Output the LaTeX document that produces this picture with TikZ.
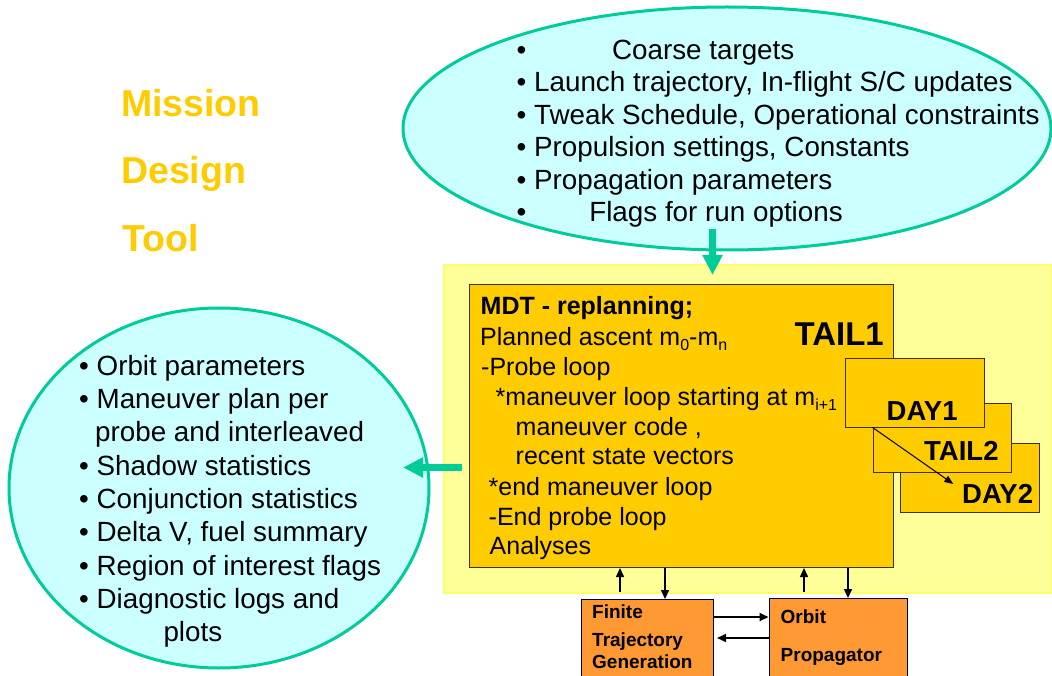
\documentclass[tikz,border=0pt]{standalone}
\usepackage{fontspec}
\setmainfont{Liberation Sans}
\usetikzlibrary{arrows.meta,shapes.geometric}
\definecolor{cyanfill}{HTML}{CCFFFF}
\definecolor{tealline}{HTML}{00CC99}
\definecolor{goldfill}{HTML}{FFCC00}
\definecolor{paleyellow}{HTML}{FFFF99}
\definecolor{yedge}{HTML}{FFFF66}
\definecolor{orangefill}{HTML}{FF9933}
\definecolor{boxedge}{HTML}{3D3300}
\newcommand\mysub[1]{\raisebox{-5pt}{\fontsize{16}{16}\selectfont #1}}
\begin{document}
\begin{tikzpicture}[x=1pt,y=-1pt,
  bubble/.style={ellipse, draw=tealline, line width=3pt, fill=cyanfill, inner sep=0pt},
  bgbox/.style={rectangle, draw=yedge, line width=2pt, fill=paleyellow, inner sep=0pt},
  goldbox/.style={rectangle, draw=boxedge, line width=1pt, fill=goldfill, inner sep=0pt},
  orbox/.style={rectangle, draw=black, line width=1pt, fill=orangefill, inner sep=0pt},
  bigtxt/.style={anchor=base west, inner sep=0pt, font=\fontsize{27.8}{33}\selectfont},
  midtxt/.style={anchor=base west, inner sep=0pt, font=\fontsize{25}{30}\selectfont},
  smalltxt/.style={anchor=base west, inner sep=0pt, font=\fontsize{19}{22}\selectfont\bfseries},
  titletxt/.style={anchor=base west, inner sep=0pt, text=goldfill, font=\fontsize{37.5}{40}\selectfont\bfseries},
  labeltxt/.style={anchor=base west, inner sep=0pt, font=\fontsize{27.5}{30}\selectfont\bfseries},
  greenarrow/.style={draw=tealline, line width=6.5pt, -{Triangle[length=20pt,width=19pt]}},
  thinarrow/.style={draw=black, line width=1.5pt, -{Triangle[length=9pt,width=8pt]}},
  innerarrow/.style={draw=black, line width=1pt, -{Triangle[length=9pt,width=7pt]}}
]
\useasboundingbox (0,0) rectangle (1052,676);

% title
\node[titletxt] (t1) at (121,116.7) {Mission};
\node[titletxt] (t2) at (121,183.3) {Design};
\node[titletxt] (t3) at (122.5,251.7) {Tool};

% background and boxes
\node[bgbox, minimum width=608pt, minimum height=327pt] (env) at (748,429) {};
\node[bubble, minimum width=648pt, minimum height=243pt] (inputs) at (727,128.5) {};
\node[bubble, minimum width=420pt, minimum height=360pt] (outputs) at (219,488) {};
\node[goldbox, minimum width=423.5pt, minimum height=283pt] (mdt) at (681.25,426) {};
\node[goldbox, minimum width=138.6pt, minimum height=69pt] (day2) at (970,477.8) {};
\node[goldbox, minimum width=138.4pt, minimum height=69pt] (tail2) at (942.5,437.8) {};
\node[goldbox, minimum width=138.3pt, minimum height=68.6pt] (day1) at (914.85,393) {};
\node[orbox, minimum width=132pt, minimum height=78pt] (ftg) at (647,638.5) {};
\node[orbox, minimum width=138pt, minimum height=79pt] (op) at (838,638) {};

% input list
\node[bigtxt] (in1) at (516.5,59.5) {•\hspace{85.6pt}Coarse targets};
\node[bigtxt] (in2) at (516.5,92) {• Launch trajectory, In-flight S/C updates};
\node[bigtxt] (in3) at (516.5,124.5) {• Tweak Schedule, Operational constraints};
\node[bigtxt] (in4) at (516.5,157) {• Propulsion settings, Constants};
\node[bigtxt] (in5) at (516.5,189.5) {• Propagation parameters};
\node[bigtxt] (in6) at (516.5,222) {•\hspace{62.9pt}Flags for run options};

% output list
\node[bigtxt] (out1) at (79,375) {• Orbit parameters};
\node[bigtxt] (out2) at (79,408.3) {• Maneuver plan per};
\node[bigtxt] (out3) at (95,441.7) {probe and interleaved};
\node[bigtxt] (out4) at (79,475) {• Shadow statistics};
\node[bigtxt] (out5) at (79,508.3) {• Conjunction statistics};
\node[bigtxt] (out6) at (79,541.7) {• Delta V, fuel summary};
\node[bigtxt] (out7) at (79,575) {• Region of interest flags};
\node[bigtxt] (out8) at (79,608.3) {• Diagnostic logs and};
\node[bigtxt] (out9) at (163.3,641.7) {plots};

% MDT text
\node[midtxt, font=\fontsize{25}{30}\selectfont\bfseries] (m1) at (480.5,315) {MDT - replanning;};
\node[midtxt] (m2) at (480,345) {Planned ascent m\mysub{0}-m\mysub{n}};
\node[midtxt] (m3) at (481,375) {-Probe loop};
\node[midtxt] (m4) at (495.5,405) {*maneuver loop starting at m\mysub{i+1}};
\node[midtxt] (m5) at (515.5,435) {maneuver code ,};
\node[midtxt] (m6) at (515.5,464.5) {recent state vectors};
\node[midtxt] (m7) at (488.5,495) {*end maneuver loop};
\node[midtxt] (m8) at (488.5,525) {-End probe loop};
\node[midtxt] (m9) at (489.5,554.5) {Analyses};

\node[anchor=base east, inner sep=0pt, font=\fontsize{33}{36}\selectfont\bfseries] (tail1) at (884,345) {TAIL1};
\node[labeltxt] (lday1) at (886.5,420.7) {DAY1};
\node[labeltxt] (ltail2) at (924,460.7) {TAIL2};
\node[labeltxt] (lday2) at (962,503.3) {DAY2};

% bottom box text
\node[smalltxt] (f1) at (592,618.3) {Finite};
\node[smalltxt] (f2) at (592,646) {Trajectory};
\node[smalltxt] (f3) at (592,668.3) {Generation};
\node[smalltxt] (o1) at (780.5,623.3) {Orbit};
\node[smalltxt] (o2) at (780.5,661.7) {Propagator};

% connectors
\coordinate (topstart) at (712.5,229);
\coordinate (toptip) at (712.5,275);
\draw[greenarrow] (topstart) -- (toptip);
\coordinate (leftstart) at (462,467.5);
\coordinate (lefttip) at (403,467.5);
\draw[greenarrow] (leftstart) -- (lefttip);

\coordinate (dstart) at (872.3,427.3);
\coordinate (dend) at (953.3,484);
\draw[innerarrow] (dstart) -- (dend);

\coordinate (u1) at (620,592);
\coordinate (u2) at (804,592);
\draw[thinarrow] (u1) -- (u1 |- mdt.south);
\draw[thinarrow] (u2) -- (u2 |- mdt.south);
\coordinate (d1) at (665,567.5);
\coordinate (d2) at (848,567.5);
\draw[thinarrow] (d1) -- (d1 |- ftg.north);
\draw[thinarrow] (d2) -- (d2 |- op.north);

\coordinate (r1) at (713,617);
\draw[thinarrow, line width=2pt] (r1) -- (r1 -| op.west);
\coordinate (r2) at (769,638);
\coordinate (r2e) at (717,638);
\draw[thinarrow, line width=2pt] (r2) -- (r2e);
\end{tikzpicture}
\end{document}
